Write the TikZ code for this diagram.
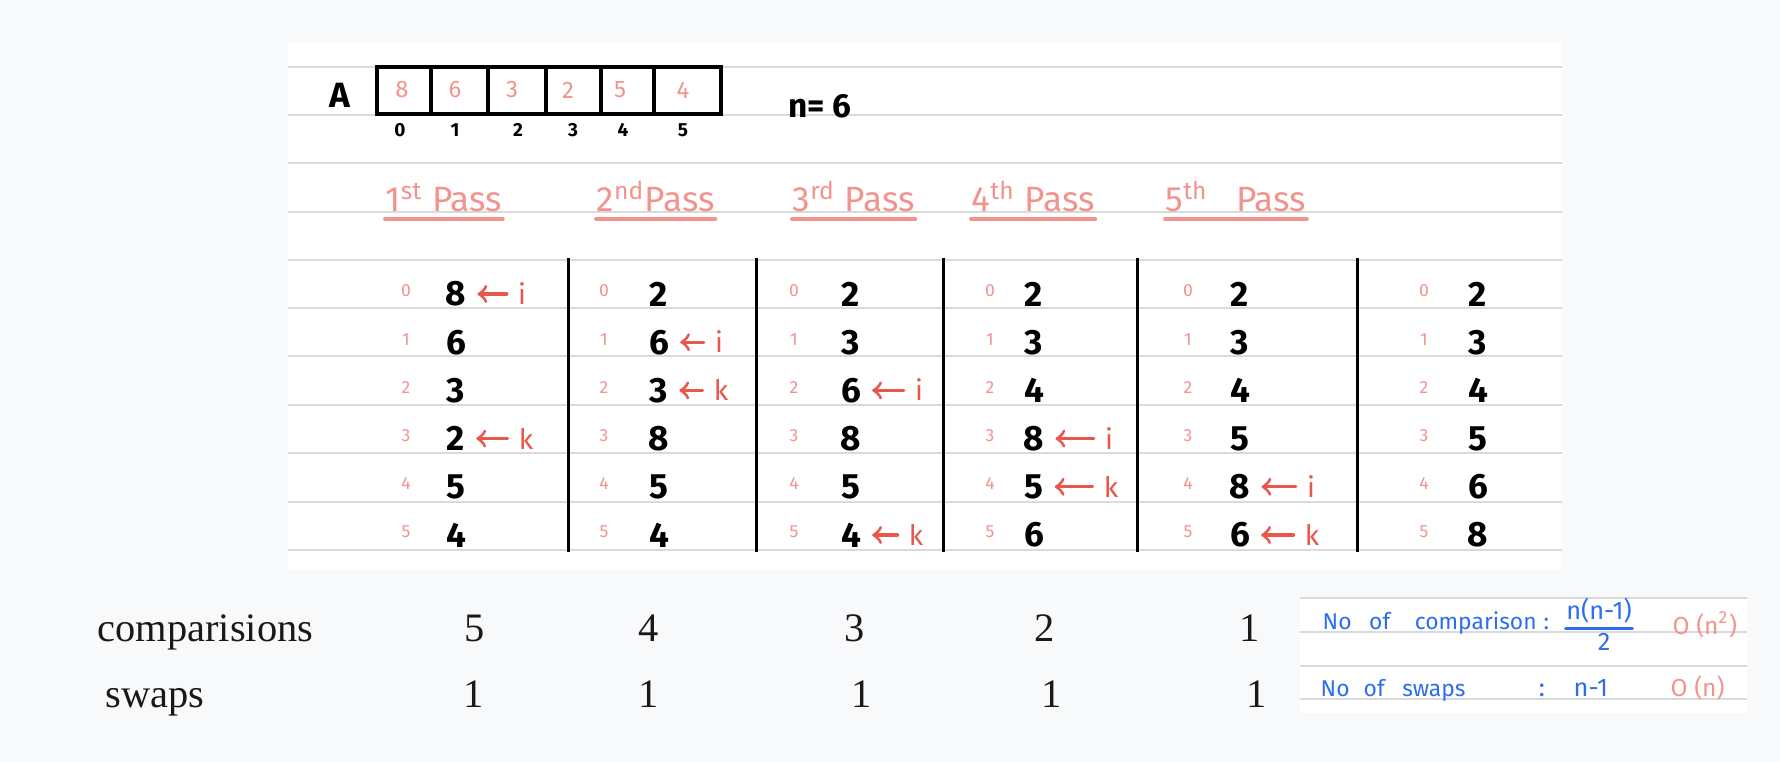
\documentclass[tikz,border=0pt]{standalone}
\usepackage{fontspec}
\usepackage{tikz}
\usepackage{xcolor}
\setmainfont{Liberation Serif}
\newfontfamily\hand{Fira Sans}

\definecolor{pagebg}{HTML}{F8F9FB}
\definecolor{rulegray}{HTML}{DADADA}
\definecolor{salmon}{HTML}{F2948E}
\definecolor{ptrred}{HTML}{E8574C}
\definecolor{inkblue}{HTML}{2C6EEE}

\tikzset{
	rule/.style={rulegray, line width=0.55pt},
	val/.style={font={\hand\bfseries\fontsize{10}{12}\selectfont}, inner sep=0pt},
	idx/.style={font={\hand\fontsize{5}{6}\selectfont}, text=salmon, inner sep=0pt},
	lbl/.style={font={\hand\fontsize{8}{9}\selectfont}, text=ptrred, inner sep=0pt},
	ptr/.style={->, ptrred, line width=0.9pt, line cap=round, shorten >=3pt, shorten <=3pt},
	pass/.style={font={\hand\fontsize{10}{12}\selectfont}, text=salmon, inner sep=0pt, anchor=base west},
	uline/.style={salmon, line width=1.1pt, line cap=round},
	sep/.style={black, line width=0.85pt},
	note/.style={font={\fontsize{11.5}{13}\selectfont}, text=black!90, inner sep=0pt},
	bluenote/.style={font={\hand\fontsize{6.5}{8}\selectfont}, text=inkblue, inner sep=0pt},
	bluemath/.style={font={\hand\fontsize{7.2}{8}\selectfont}, text=inkblue, inner sep=0pt},
	order/.style={font={\hand\fontsize{7}{8}\selectfont}, text=salmon, inner sep=0pt, anchor=base west}
}

\begin{document}
\begin{tikzpicture}[x=0.1mm, y=-0.1mm]
	\fill[pagebg] (0, 0) rectangle (1780, 762);  % page
	\useasboundingbox (0, 0) rectangle (1780, 762);

	% notebook sheet
	\fill[white] (288, 42) rectangle (1562, 570);
	\foreach \y in {67, 115, 163, 212, 260, 308, 356, 405, 453, 502, 550}
		\draw[rule] (288, \y) -- (1562, \y);

	% array A
	\node[val] (A) at (340, 95) {A};
	\draw[black, line width=0.95pt] (377, 67) rectangle (721, 114);
	\foreach \x in {431, 488, 546, 601, 654}
		\draw[black, line width=0.95pt] (\x, 67) -- (\x, 114);
	\foreach \x/\v [count=\i from 0] in {402/8, 455/6, 512/3, 568/2, 620/5, 683/4}
		\node[inner sep=0pt, text=salmon, font={\hand\fontsize{6.8}{8}\selectfont}] (a\i) at (\x, 90) {\v};
	\foreach \x [count=\i from 0] in {400, 455, 518, 573, 623, 683}
		\node[inner sep=0pt, font={\hand\bfseries\fontsize{5.4}{6}\selectfont}] (ai\i) at (\x, 130) {\i};
	\node[inner sep=0pt, font={\hand\bfseries\fontsize{9.5}{10}\selectfont}] (n) at (820, 106) {n= 6};

	% pass headers
	\node[pass] (p1) at (385, 212) {1\textsuperscript{st} Pass};
	\node[pass] (p2) at (596, 212) {2\textsuperscript{nd}Pass};
	\node[pass] (p3) at (792, 212) {3\textsuperscript{rd} Pass};
	\node[pass] (p4) at (971, 212) {4\textsuperscript{th} Pass};
	\node[pass] (p5) at (1165, 212) {5\textsuperscript{th}\hspace{8pt}Pass};
	\foreach \p in {p1, p2, p3, p4, p5}
		\draw[uline] ([yshift=-2pt]\p.base west) -- ([yshift=-2pt]\p.base east);

	% column separators
	\foreach \x in {568, 756, 943, 1137, 1357}
		\draw[sep] (\x, 258) -- (\x, 552);

	% table after each pass
	\foreach \v [count=\r from 0] in {8, 6, 3, 2, 5, 4} {
		\node[idx] (i1-\r) at (406, {291+48.2*\r}) {\r};
		\node[val] (v1-\r) at (456, {294+48.2*\r}) {\v};
	}
	\foreach \v [count=\r from 0] in {2, 6, 3, 8, 5, 4} {
		\node[idx] (i2-\r) at (604, {291+48.2*\r}) {\r};
		\node[val] (v2-\r) at (659, {294+48.2*\r}) {\v};
	}
	\foreach \v [count=\r from 0] in {2, 3, 6, 8, 5, 4} {
		\node[idx] (i3-\r) at (794, {291+48.2*\r}) {\r};
		\node[val] (v3-\r) at (851, {294+48.2*\r}) {\v};
	}
	\foreach \v [count=\r from 0] in {2, 3, 4, 8, 5, 6} {
		\node[idx] (i4-\r) at (990, {291+48.2*\r}) {\r};
		\node[val] (v4-\r) at (1034, {294+48.2*\r}) {\v};
	}
	\foreach \v [count=\r from 0] in {2, 3, 4, 5, 8, 6} {
		\node[idx] (i5-\r) at (1188, {291+48.2*\r}) {\r};
		\node[val] (v5-\r) at (1240, {294+48.2*\r}) {\v};
	}
	\foreach \v [count=\r from 0] in {2, 3, 4, 5, 6, 8} {
		\node[idx] (i6-\r) at (1424, {291+48.2*\r}) {\r};
		\node[val] (v6-\r) at (1478, {294+48.2*\r}) {\v};
	}

	% i and k pointers
	\node[lbl] (pi1) at (522, 294) {i};
	\node[lbl] (pk1) at (526, 439) {k};
	\node[lbl] (pi2) at (719, 342) {i};
	\node[lbl] (pk2) at (721, 390) {k};
	\node[lbl] (pi3) at (919, 390) {i};
	\node[lbl] (pk3) at (916, 535) {k};
	\node[lbl] (pi4) at (1109, 439) {i};
	\node[lbl] (pk4) at (1111, 487) {k};
	\node[lbl] (pi5) at (1311, 487) {i};
	\node[lbl] (pk5) at (1312, 535) {k};
	\draw[ptr] (pi1.west |- v1-0) -- (v1-0);
	\draw[ptr] (pk1.west |- v1-3) -- (v1-3);
	\draw[ptr] (pi2.west |- v2-1) -- (v2-1);
	\draw[ptr] (pk2.west |- v2-2) -- (v2-2);
	\draw[ptr] (pi3.west |- v3-2) -- (v3-2);
	\draw[ptr] (pk3.west |- v3-5) -- (v3-5);
	\draw[ptr] (pi4.west |- v4-3) -- (v4-3);
	\draw[ptr] (pk4.west |- v4-4) -- (v4-4);
	\draw[ptr] (pi5.west |- v5-4) -- (v5-4);
	\draw[ptr] (pk5.west |- v5-5) -- (v5-5);

	% counts per pass
	\node[note, anchor=base west] (cmp) at (97, 641) {comparisions};
	\node[note, anchor=base west] (swp) at (105, 707) {swaps};
	\foreach \x/\v [count=\i] in {475/5, 649/4, 855/3, 1045/2, 1250/1}
		\node[note, anchor=base] (c\i) at (\x, 641) {\v};
	\foreach \x [count=\i] in {474, 649, 862, 1052, 1257}
		\node[note, anchor=base] (s\i) at (\x, 707) {1};

	% summary sheet
	\fill[white] (1300, 598) rectangle (1747, 713);
	\foreach \y in {598, 632, 666, 699}
		\draw[rule] (1300, \y) -- (1747, \y);
	\node[bluenote, anchor=base west] (ncmp) at (1322, 629) {No\hspace{5pt}of\hspace{7pt}comparison\hspace{2pt}:};
	\node[bluemath, anchor=south] (num) at (1599, 624) {n(n-1)};
	\node[bluemath] (den) at (1604, 642) {2};
	\draw[inkblue, line width=0.8pt, line cap=round] ([yshift=-1.2pt]num.south west) -- ([yshift=-1.2pt]num.south east);
	\node[order] (ocmp) at (1672, 634) {O (n\textsuperscript{2})};
	\node[bluenote, anchor=base west] (nswp) at (1320, 696) {No\hspace{4pt}of\hspace{5pt}swaps};
	\node[bluemath, anchor=base] (colon) at (1542, 696) {:};
	\node[bluemath, anchor=base west] (nm1) at (1573, 696) {n-1};
	\node[order] (oswp) at (1670, 696) {O (n)};
\end{tikzpicture}
\end{document}
